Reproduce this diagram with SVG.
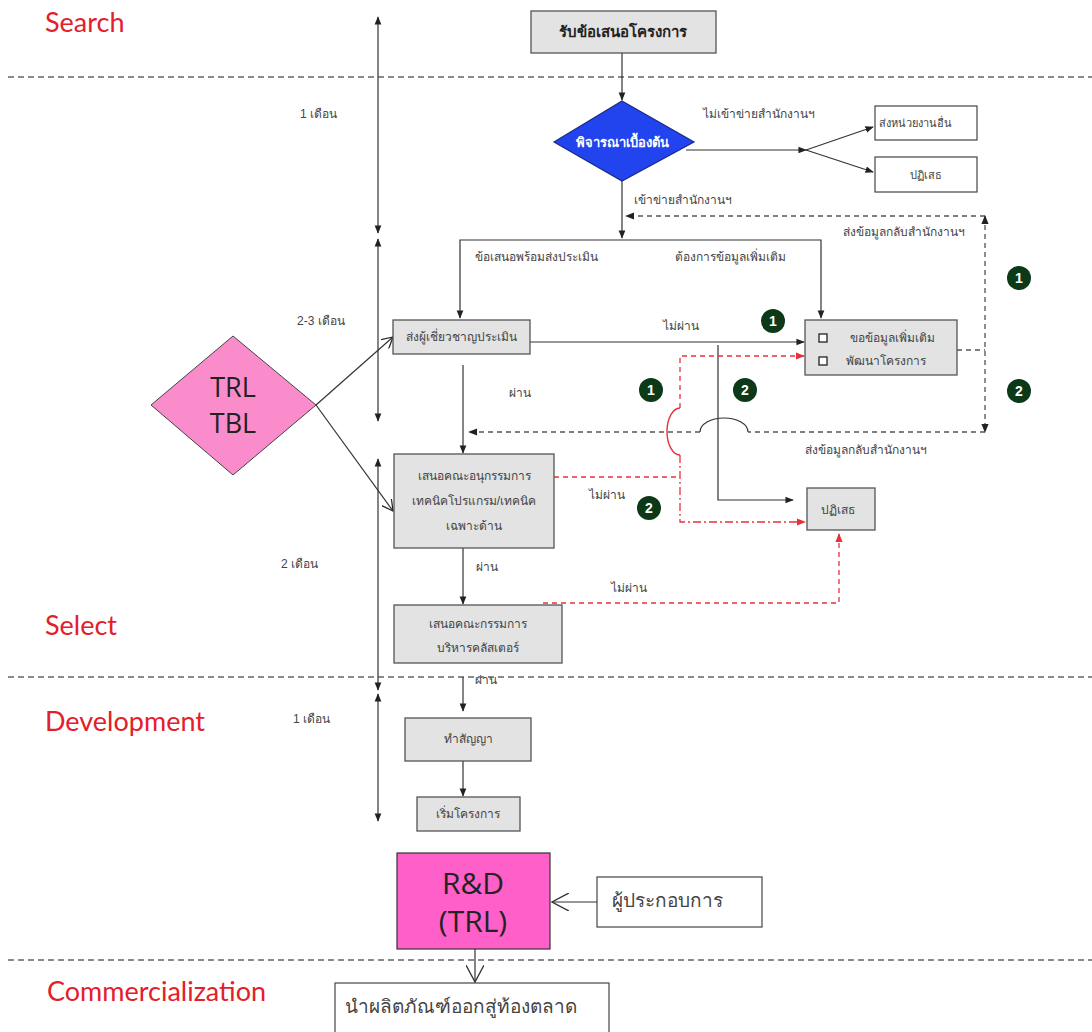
<svg xmlns="http://www.w3.org/2000/svg" width="1092" height="1032" viewBox="0 0 1092 1032">
  <defs>
    <style>
      .phase { fill: #e3202a; font-family: Lato, "Open Sans", sans-serif; font-size: 27px; }
      .sep { stroke: #666; stroke-width: 1.3; stroke-dasharray: 6 4; fill: none; }
      .lbl { fill: #444; font-family: "Liberation Sans", "Noto Sans", sans-serif; font-size: 12px; }
      .box { fill: #e3e3e3; stroke: #555; stroke-width: 1.3; }
      .wbox { fill: #fff; stroke: #444; stroke-width: 1.2; }
      .bt { fill: #444; font-family: "Liberation Sans", "Noto Sans", sans-serif; font-size: 12px; text-anchor: middle; }
      .ln { stroke: #333; stroke-width: 1.2; fill: none; }
      .dash { stroke: #555; stroke-width: 1.3; stroke-dasharray: 5 4; fill: none; }
      .red { stroke: #e8303a; stroke-width: 1.3; stroke-dasharray: 5 4; fill: none; }
      .reddd { stroke: #e8303a; stroke-width: 1.3; stroke-dasharray: 8 3 2 3; fill: none; }
      .badge circle { fill: #0c3a18; }
      .badge text { fill: #fff; font-family: "Liberation Sans", sans-serif; font-size: 14px; font-weight: bold; text-anchor: middle; }
      .big { fill: #222; font-family: "Open Sans", "Liberation Sans", sans-serif; font-size: 30px; text-anchor: middle; }
    </style>
    <marker id="ah" viewBox="0 0 10 10" refX="9" refY="5" markerWidth="7" markerHeight="7" orient="auto-start-reverse">
      <path d="M0,1 L10,5 L0,9 Z" fill="#222"/>
    </marker>
    <marker id="ahr" viewBox="0 0 10 10" refX="9" refY="5" markerWidth="7" markerHeight="7" orient="auto-start-reverse">
      <path d="M0,1 L10,5 L0,9 Z" fill="#e8303a"/>
    </marker>
    <marker id="open" viewBox="0 0 12 12" refX="11" refY="6" markerWidth="12" markerHeight="12" markerUnits="userSpaceOnUse" orient="auto">
      <path d="M0,0 L11,6 L0,12" fill="none" stroke="#222" stroke-width="1.2"/>
    </marker>
    <marker id="open2" viewBox="0 0 16 16" refX="15" refY="8" markerWidth="18" markerHeight="18" markerUnits="userSpaceOnUse" orient="auto">
      <path d="M0,0 L15,8 L0,16" fill="none" stroke="#333" stroke-width="1.2"/>
    </marker>
  </defs>

  <rect width="1092" height="1032" fill="#fff"/>

  <!-- phase separators and titles -->
  <g id="phases">
    <line class="sep" x1="8" y1="77" x2="1092" y2="77"/>
    <line class="sep" x1="8" y1="677" x2="1092" y2="677"/>
    <line class="sep" x1="8" y1="960" x2="1092" y2="960"/>
    <text class="phase" x="45" y="32">Search</text>
    <text class="phase" x="45" y="635">Select</text>
    <text class="phase" x="45" y="731">Development</text>
    <text class="phase" x="47" y="1001">Commercialization</text>
  </g>

  <!-- duration axis -->
  <g id="timeline">
    <line class="ln" x1="378" y1="17" x2="378" y2="233" marker-start="url(#ah)" marker-end="url(#ah)"/>
    <line class="ln" x1="378" y1="239" x2="378" y2="421" marker-start="url(#ah)" marker-end="url(#ah)"/>
    <line class="ln" x1="378" y1="459" x2="378" y2="690" marker-start="url(#ah)" marker-end="url(#ah)"/>
    <line class="ln" x1="378" y1="694" x2="378" y2="821" marker-start="url(#ah)" marker-end="url(#ah)"/>
    <text class="lbl" x="300" y="118">1 เดือน</text>
    <text class="lbl" x="297" y="325">2-3 เดือน</text>
    <text class="lbl" x="281" y="568">2 เดือน</text>
    <text class="lbl" x="293" y="723">1 เดือน</text>
  </g>

  <!-- connectors -->
  <g id="connectors">
    <line class="ln" x1="622" y1="53" x2="622" y2="100" marker-end="url(#ah)"/>
    <line class="ln" x1="686" y1="150" x2="806" y2="150" marker-end="url(#ah)"/>
    <line class="ln" x1="806" y1="150" x2="873" y2="127" marker-end="url(#ah)"/>
    <line class="ln" x1="806" y1="150" x2="873" y2="172" marker-end="url(#ah)"/>
    <line class="ln" x1="622" y1="181" x2="622" y2="238" marker-end="url(#ah)"/>
    <path class="ln" d="M460,318 V240 H821 V318" marker-start="url(#ah)" marker-end="url(#ah)"/>
    <line class="ln" x1="530" y1="342" x2="804" y2="342" marker-end="url(#ah)"/>
    <line class="ln" x1="463" y1="365" x2="463" y2="453" marker-end="url(#ah)"/>
    <line class="ln" x1="463" y1="548" x2="463" y2="604" marker-end="url(#ah)"/>
    <line class="ln" x1="463" y1="677" x2="463" y2="711" marker-end="url(#ah)"/>
    <line class="ln" x1="463" y1="761" x2="463" y2="796" marker-end="url(#ah)"/>
    <!-- rejection from expert review -->
    <path class="ln" d="M718,345 V500 H793" marker-end="url(#ah)"/>
    <!-- TRL/TBL links -->
    <line class="ln" x1="316" y1="405" x2="393" y2="337" marker-end="url(#open)"/>
    <line class="ln" x1="316" y1="405" x2="393" y2="511" marker-end="url(#open)"/>
    <!-- feedback to the office -->
    <line class="dash" x1="985" y1="216" x2="626" y2="216" marker-end="url(#ah)"/>
    <line class="dash" x1="985" y1="216" x2="985" y2="432" marker-start="url(#ah)" marker-end="url(#ah)"/>
    <line class="dash" x1="957" y1="350" x2="985" y2="350"/>
    <path class="dash" d="M985,432 H748"/>
    <path class="ln" d="M748,432 A24,14 0 0 0 700,432"/>
    <path class="dash" d="M700,432 H469" marker-end="url(#ah)"/>
    <!-- red returns -->
    <path class="red" d="M554,477 H680"/>
    <path class="red" d="M680,408 V356 H804" marker-end="url(#ahr)"/>
    <path d="M680,408 A13,23.5 0 0 0 680,455" stroke="#e8303a" stroke-width="1.4" fill="none"/>
    <path class="reddd" d="M680,455 V522 H805" marker-end="url(#ahr)"/>
    <path class="red" d="M543,603 H839 V534" marker-end="url(#ahr)"/>
    <line class="ln" x1="597" y1="902" x2="552" y2="902" marker-end="url(#open2)"/>
    <line class="ln" x1="475" y1="949" x2="475" y2="982" marker-end="url(#open2)"/>
  </g>

  <!-- connector labels -->
  <g id="labels">
    <text class="lbl" x="703" y="118">ไม่เข้าข่ายสำนักงานฯ</text>
    <text class="lbl" x="634" y="204">เข้าข่ายสำนักงานฯ</text>
    <text class="lbl" x="843" y="236">ส่งข้อมูลกลับสำนักงานฯ</text>
    <text class="lbl" x="475" y="261">ข้อเสนอพร้อมส่งประเมิน</text>
    <text class="lbl" x="675" y="261">ต้องการข้อมูลเพิ่มเติม</text>
    <text class="lbl" x="663" y="330">ไม่ผ่าน</text>
    <text class="lbl" x="509" y="397">ผ่าน</text>
    <text class="lbl" x="805" y="454">ส่งข้อมูลกลับสำนักงานฯ</text>
    <text class="lbl" x="589" y="499">ไม่ผ่าน</text>
    <text class="lbl" x="476" y="571">ผ่าน</text>
    <text class="lbl" x="611" y="592">ไม่ผ่าน</text>
    <text class="lbl" x="475" y="684">ผ่าน</text>
  </g>

  <!-- numbered markers -->
  <g id="badges">
    <g class="badge"><circle cx="773" cy="321" r="12"/><text x="773" y="326">1</text></g>
    <g class="badge"><circle cx="1019" cy="278" r="12"/><text x="1019" y="283">1</text></g>
    <g class="badge"><circle cx="1019" cy="391" r="12"/><text x="1019" y="396">2</text></g>
    <g class="badge"><circle cx="651" cy="390" r="12"/><text x="651" y="395">1</text></g>
    <g class="badge"><circle cx="745" cy="390" r="12"/><text x="745" y="395">2</text></g>
    <g class="badge"><circle cx="649" cy="508" r="12"/><text x="649" y="513">2</text></g>
  </g>

  <!-- nodes -->
  <g id="receive">
    <rect class="box" x="531" y="11" width="185" height="42"/>
    <text class="bt" x="623" y="37" style="font-size:15px;font-weight:bold;fill:#222">รับข้อเสนอโครงการ</text>
  </g>
  <g id="screen">
    <polygon points="622,101 694,142 622,181 554,142" fill="#2244ee" stroke="#1a2a88" stroke-width="1.2"/>
    <text class="bt" x="622" y="147" style="fill:#fff;font-weight:bold;font-size:13px">พิจารณาเบื้องต้น</text>
  </g>
  <g id="other-agency">
    <rect class="wbox" x="875" y="106" width="102" height="34"/>
    <text class="bt" x="915" y="127" style="font-size:11px">ส่งหน่วยงานอื่น</text>
  </g>
  <g id="reject-1">
    <rect class="wbox" x="875" y="157" width="102" height="35"/>
    <text class="bt" x="926" y="179" style="font-size:11px">ปฏิเสธ</text>
  </g>
  <g id="expert">
    <rect class="box" x="393" y="320" width="137" height="34"/>
    <text class="bt" x="461" y="341">ส่งผู้เชี่ยวชาญประเมิน</text>
  </g>
  <g id="more-info">
    <rect class="box" x="805" y="320" width="152" height="55"/>
    <rect x="819" y="334" width="8" height="8" fill="#fff" stroke="#222" stroke-width="1.3"/>
    <rect x="819" y="357" width="8" height="8" fill="#fff" stroke="#222" stroke-width="1.3"/>
    <text class="lbl" x="850" y="342">ขอข้อมูลเพิ่มเติม</text>
    <text class="lbl" x="846" y="365">พัฒนาโครงการ</text>
  </g>
  <g id="subcommittee">
    <rect class="box" x="394" y="454" width="160" height="94"/>
    <text class="bt" x="474" y="480">เสนอคณะอนุกรรมการ</text>
    <text class="bt" x="474" y="505">เทคนิคโปรแกรม/เทคนิค</text>
    <text class="bt" x="474" y="530">เฉพาะด้าน</text>
  </g>
  <g id="reject-2">
    <rect class="box" x="807" y="488" width="68" height="42"/>
    <text class="bt" x="838" y="514">ปฏิเสธ</text>
  </g>
  <g id="cluster-board">
    <rect class="box" x="394" y="605" width="168" height="58"/>
    <text class="bt" x="478" y="628">เสนอคณะกรรมการ</text>
    <text class="bt" x="478" y="652">บริหารคลัสเตอร์</text>
  </g>
  <g id="contract">
    <rect class="box" x="405" y="718" width="126" height="43"/>
    <text class="bt" x="468" y="743">ทำสัญญา</text>
  </g>
  <g id="start">
    <rect class="box" x="417" y="797" width="103" height="34"/>
    <text class="bt" x="468" y="818">เริ่มโครงการ</text>
  </g>
  <g id="trl-tbl">
    <polygon points="233,336 316,405 233,475 151,405" fill="#fa8ccc" stroke="#444" stroke-width="1"/>
    <text class="big" x="233" y="397" style="font-size:27px">TRL</text>
    <text class="big" x="233" y="433" style="font-size:27px">TBL</text>
  </g>
  <g id="rnd">
    <rect x="397" y="853" width="153" height="96" fill="#ff5fc8" stroke="#333" stroke-width="1.2"/>
    <text class="big" x="473" y="894">R&amp;D</text>
    <text class="big" x="473" y="932">(TRL)</text>
  </g>
  <g id="entrepreneur">
    <rect class="wbox" x="597" y="877" width="165" height="50"/>
    <text class="lbl" x="612" y="907" style="font-size:19px">ผู้ประกอบการ</text>
  </g>
  <g id="market">
    <rect class="wbox" x="335" y="983" width="274" height="55"/>
    <text class="lbl" x="345" y="1013" style="font-size:19px">นำผลิตภัณฑ์ออกสู่ท้องตลาด</text>
  </g>
</svg>
